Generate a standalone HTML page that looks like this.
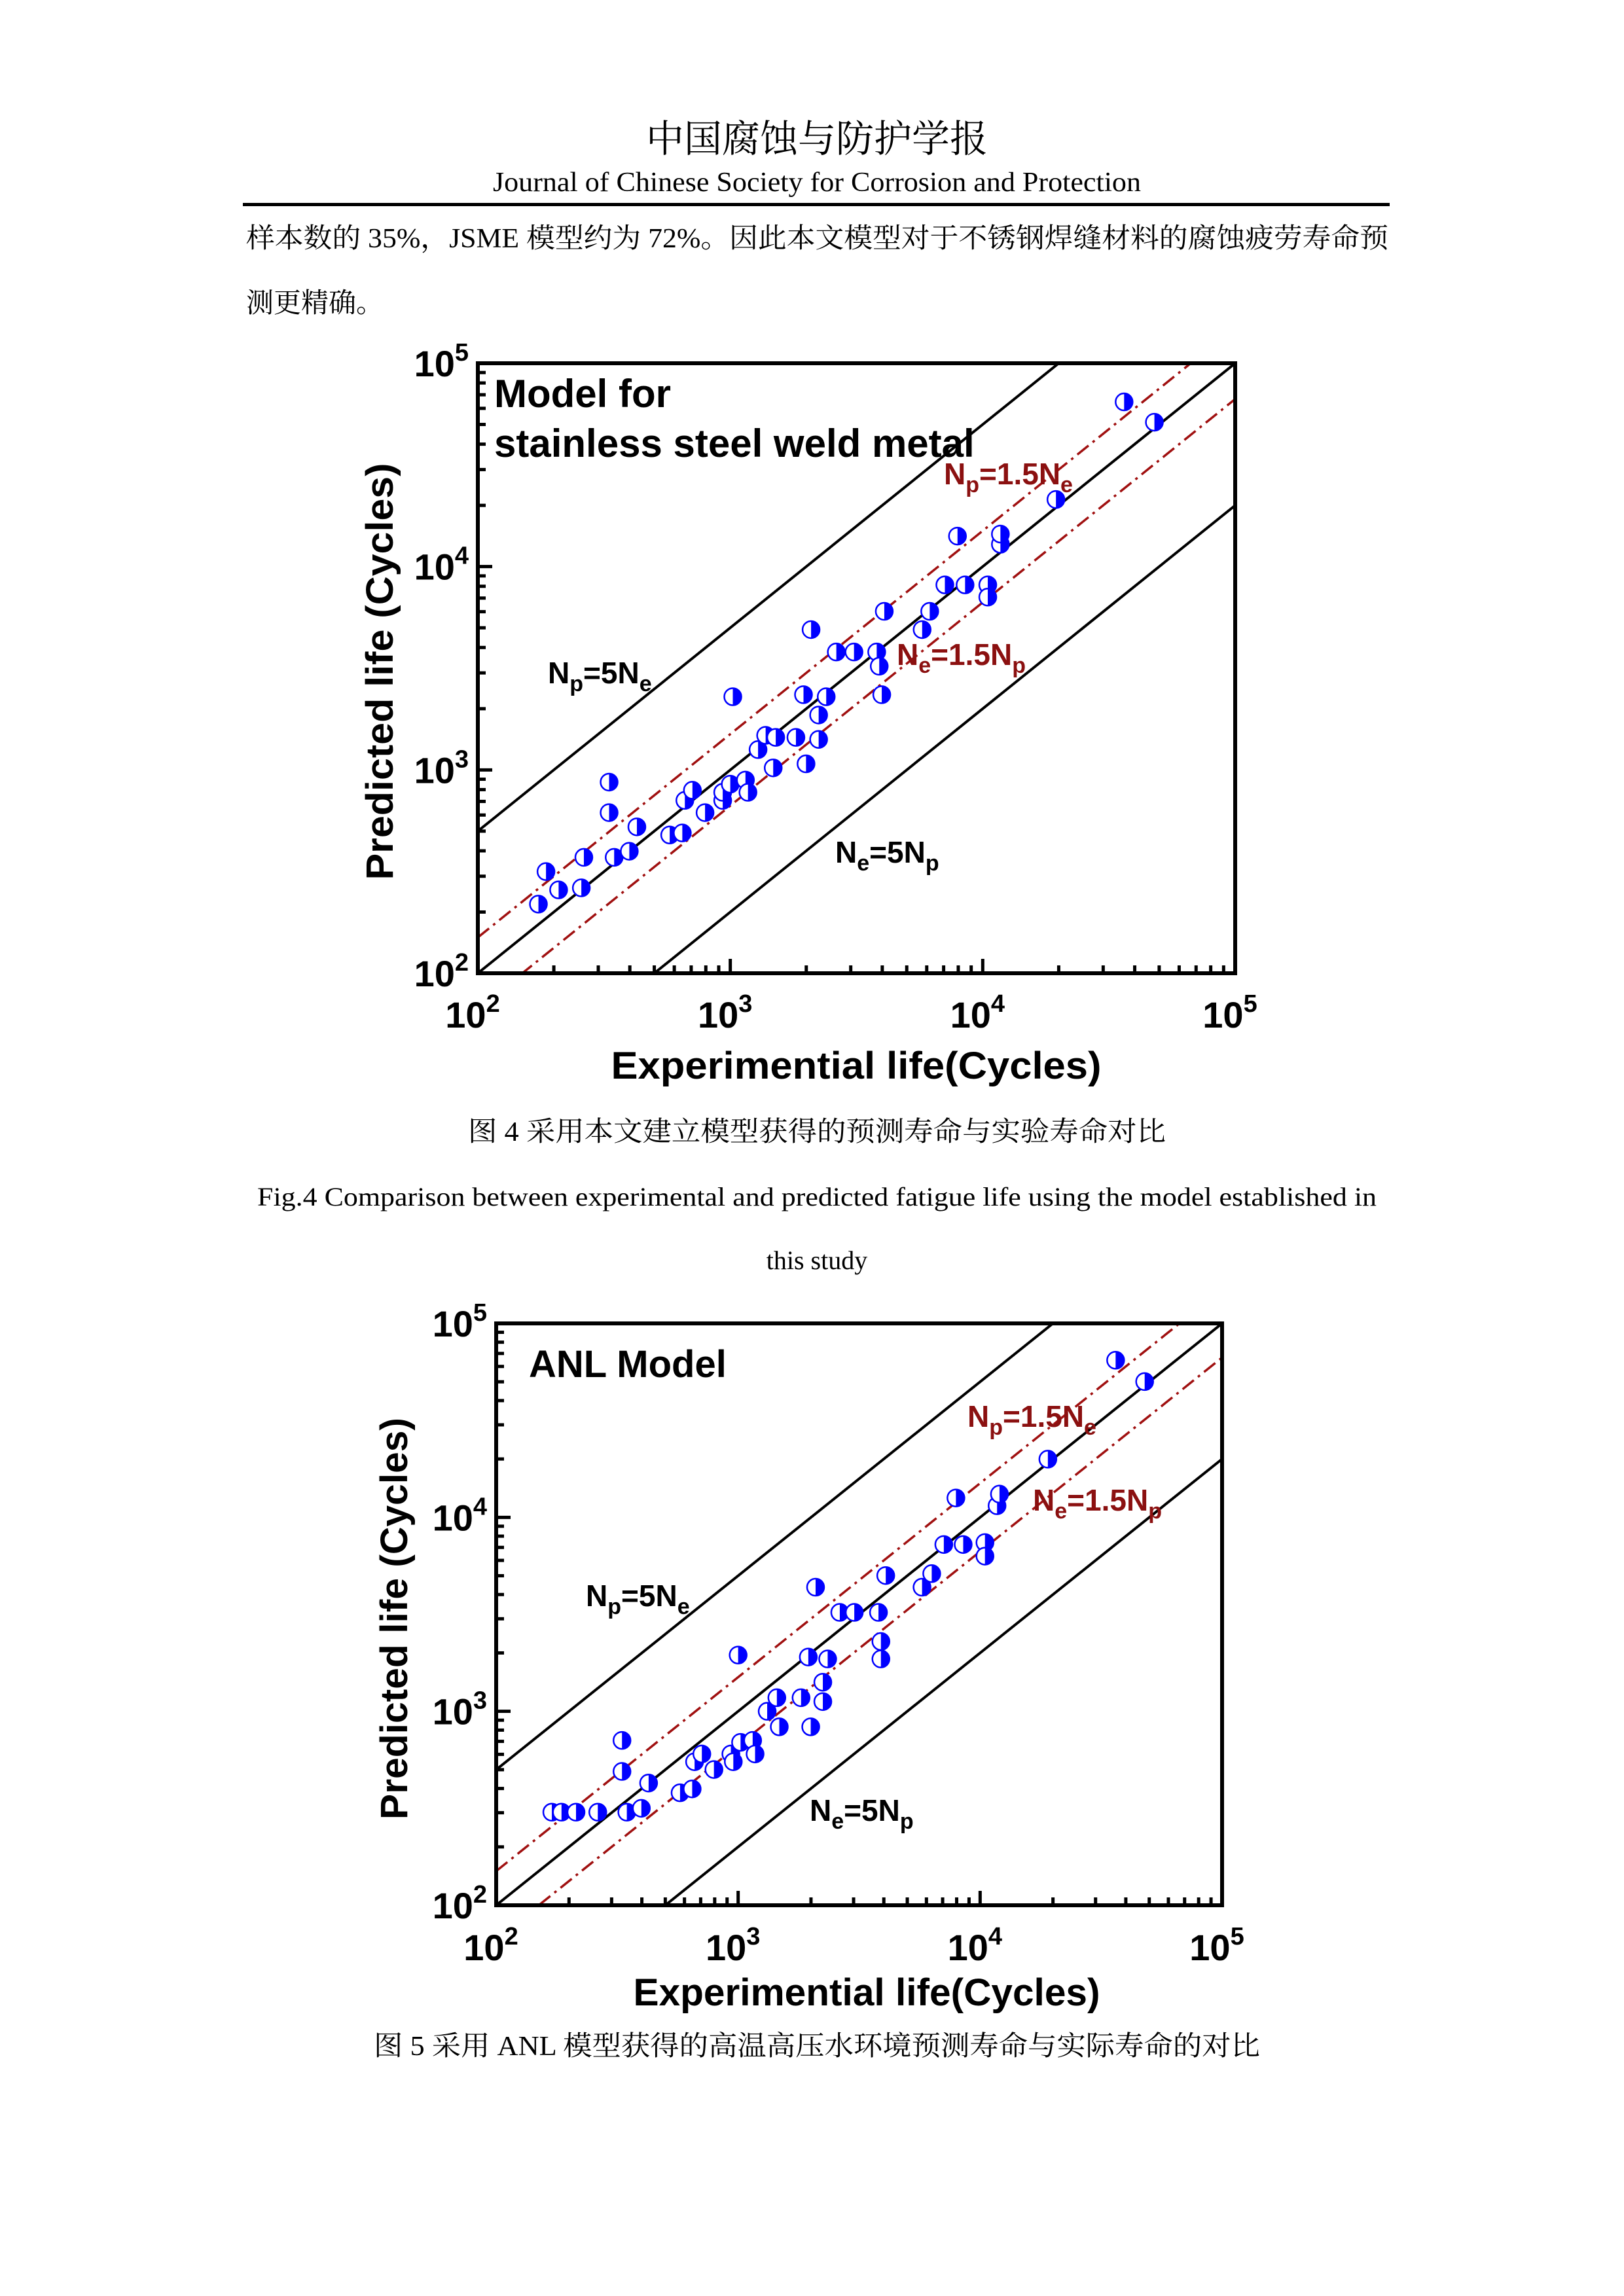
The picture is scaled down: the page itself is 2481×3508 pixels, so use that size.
<!DOCTYPE html>
<html><head><meta charset="utf-8">
<style>
html,body{margin:0;padding:0;background:#fff;}
svg{display:block;}
.cn{font-family:"Liberation Serif","Noto Serif CJK SC",serif;}
.ax{font-family:"Liberation Sans",Arial,sans-serif;font-weight:bold;}
</style></head>
<body>
<svg id="page" width="2481" height="3508" viewBox="0 0 2481 3508" xmlns="http://www.w3.org/2000/svg">
<rect width="2481" height="3508" fill="#fff"/>
<text class="cn" x="1248" y="232" font-size="58" text-anchor="middle">中国腐蚀与防护学报</text>
<text class="cn" x="1248" y="292" font-size="42" text-anchor="middle" textLength="990" lengthAdjust="spacingAndGlyphs">Journal of Chinese Society for Corrosion and Protection</text>
<rect x="371" y="310" width="1752" height="5" fill="#000"/>
<text class="cn" x="376" y="378" font-size="42" textLength="1745" lengthAdjust="spacingAndGlyphs">样本数的 35%，JSME 模型约为 72%。因此本文模型对于不锈钢焊缝材料的腐蚀疲劳寿命预</text>
<text class="cn" x="376" y="477" font-size="42">测更精确。</text>
<g id="chart1"></g>
<g id="chart2"></g>
<text class="cn" x="1248" y="1743" font-size="42" text-anchor="middle" textLength="1066" lengthAdjust="spacingAndGlyphs">图 4  采用本文建立模型获得的预测寿命与实验寿命对比</text>
<text class="cn" x="1248" y="1842" font-size="40" text-anchor="middle" textLength="1710" lengthAdjust="spacingAndGlyphs">Fig.4 Comparison between experimental and predicted fatigue life using the model established in</text>
<text class="cn" x="1248" y="1939" font-size="40" text-anchor="middle">this study</text>
<text class="cn" x="1248" y="3140" font-size="42" text-anchor="middle" textLength="1354" lengthAdjust="spacingAndGlyphs">图 5  采用 ANL 模型获得的高温高压水环境预测寿命与实际寿命的对比</text>
</svg>
<script>
// Chart 1 data (log10 of cycles)
const c1ExpLog = [2.24,2.27,2.32,2.41,2.42,2.52,2.52,2.54,2.60,2.63,2.76,2.81,2.82,2.85,2.90,2.97,2.97,3.00,3.01,3.06,3.07,3.11,3.14,3.17,3.18,3.26,3.29,3.30,3.32,3.35,3.35,3.38,3.42,3.49,3.58,3.59,3.60,3.61,3.76,3.79,3.85,3.90,3.93,4.02,4.02,4.07,4.07,4.29,4.56,4.68];
const c1PredLog = [2.34,2.50,2.41,2.42,2.57,2.94,2.79,2.57,2.60,2.72,2.68,2.69,2.85,2.90,2.79,2.85,2.89,2.93,3.36,2.95,2.89,3.10,3.17,3.01,3.16,3.16,3.37,3.03,3.69,3.27,3.15,3.36,3.58,3.58,3.58,3.51,3.37,3.78,3.69,3.78,3.91,4.15,3.91,3.91,3.85,4.11,4.16,4.33,4.81,4.71];
// Chart 2 data (log10 of cycles)
const c2ExpLog = [2.23,2.27,2.33,2.42,2.54,2.60,2.52,2.52,2.63,2.76,2.81,2.82,2.85,2.90,2.97,2.98,3.00,3.01,3.06,3.07,3.12,3.16,3.17,3.26,3.29,3.30,3.32,3.35,3.35,3.37,3.42,3.48,3.58,3.59,3.59,3.61,3.76,3.80,3.85,3.90,3.93,4.02,4.02,4.07,4.08,4.28,4.56,4.68];
const c2PredLog = [2.48,2.48,2.48,2.48,2.48,2.50,2.85,2.69,2.63,2.58,2.60,2.74,2.78,2.70,2.78,2.74,3.29,2.84,2.85,2.78,3.00,3.07,2.92,3.07,3.28,2.92,3.64,3.15,3.05,3.27,3.51,3.51,3.51,3.36,3.27,3.70,3.64,3.71,3.86,4.10,3.86,3.87,3.80,4.06,4.12,4.30,4.81,4.70];
const tickExps = [2,3,4,5];
const refFactors = [5,1,0.2];
const bandFactors = [1.5,1/1.5];

const NS = "http://www.w3.org/2000/svg";
function mk(parent, tag, attrs){ const e=document.createElementNS(NS,tag); for(const k in attrs) e.setAttribute(k,attrs[k]); parent.appendChild(e); return e; }

function drawChart(g, cfg, xs, ys){
  const L=cfg.L,R=cfg.R,T=cfg.T,B=cfg.B;
  const sx = v => L+(v-2)/3*(R-L);
  const sy = v => B-(v-2)/3*(B-T);
  const cid = 'clip'+cfg.id;
  const defs = mk(g,'defs',{});
  const cp = mk(defs,'clipPath',{id:cid});
  mk(cp,'rect',{x:L,y:T,width:R-L,height:B-T});
  const lines = mk(g,'g',{'clip-path':'url(#'+cid+')'});
  refFactors.forEach(f=>{
    const d=Math.log10(f);
    const ln = mk(lines,'line',{x1:sx(2),y1:sy(2+d),x2:sx(5),y2:sy(5+d),stroke:'#000','stroke-width':4});
    
    
  });
  bandFactors.forEach(f=>{
    const d=Math.log10(f);
    const ln = mk(lines,'line',{x1:sx(2),y1:sy(2+d),x2:sx(5),y2:sy(5+d),stroke:'#a01010','stroke-width':3.5,'stroke-dasharray':'22 8 4 8'});
    
    
  });
  const r=13;
  const pts = mk(g,'g',{});
  xs.forEach((xv,i)=>{
    const cx=sx(xv), cy=sy(ys[i]);
    const pg = mk(pts,'g',{});
    
    
    mk(pg,'circle',{cx:cx,cy:cy,r:r,fill:'#fff',stroke:'#0000ff','stroke-width':2.5});
    mk(pg,'path',{d:`M${cx} ${cy-r} A${r} ${r} 0 0 1 ${cx} ${cy+r} Z`,fill:'#0000ff'});
  });
  const fr = mk(g,'rect',{x:L,y:T,width:R-L,height:B-T,fill:'none',stroke:'#000','stroke-width':6});
  
  
  const tk = mk(g,'g',{stroke:'#000','stroke-width':5});
  for(let e=2;e<5;e++){
    for(let m=1;m<10;m++){
      const v=e+Math.log10(m);
      const len = m===1?22:12;
      mk(tk,'line',{x1:sx(v),y1:B,x2:sx(v),y2:B-len});
      mk(tk,'line',{x1:L,y1:sy(v),x2:L+len,y2:sy(v)});
    }
  }
  tickExps.forEach(e=>{
    const xl = mk(g,'text',{x:sx(e)-8,y:cfg.xTickY,'font-size':56,'text-anchor':'middle',class:'ax'});
    
    
    xl.innerHTML = '10<tspan dy="-24" font-size="38">'+e+'</tspan>';
    const yl = mk(g,'text',{x:cfg.yTickR,y:sy(e)+20,'font-size':56,'text-anchor':'end',class:'ax'});
    
    
    yl.innerHTML = '10<tspan dy="-24" font-size="38">'+e+'</tspan>';
  });
  const xt = mk(g,'text',{x:cfg.xTitleX,y:cfg.xTitleY,'font-size':58,'text-anchor':'middle',class:'ax',textLength:cfg.xTitleLen,lengthAdjust:'spacingAndGlyphs'});
  
  
  xt.textContent='Experimential life(Cycles)';
  const yt = mk(g,'text',{x:0,y:0,'font-size':58,'text-anchor':'middle',class:'ax',textLength:cfg.yTitleLen,lengthAdjust:'spacingAndGlyphs',transform:`translate(${cfg.yTitleX},${cfg.yTitleY}) rotate(-90)`});
  
  
  yt.textContent='Predicted life (Cycles)';
  cfg.labels.forEach(lb=>{
    const t = mk(g,'text',{x:lb.x,y:lb.y,'font-size':lb.fs||46,class:'ax',fill:lb.c||'#000'});
    
    
    t.innerHTML = lb.html;
  });
}
const sub=(a,b,c,d)=>`${a}<tspan dy="12" font-size="34">${b}</tspan><tspan dy="-12">${c}</tspan><tspan dy="12" font-size="34">${d}</tspan>`;
drawChart(document.getElementById('chart1'),{id:1,L:730,R:1887,T:555,B:1487,xTickY:1570,yTickR:716,xTitleX:1308,xTitleY:1648,xTitleLen:749,yTitleX:600,yTitleY:1026,yTitleLen:637,
 labels:[
  {name:'annotation-model-for',x:755,y:622,fs:60,html:'Model for'},
  {name:'annotation-stainless',x:755,y:698,fs:60,html:'stainless steel weld metal'},
  {name:'label-np-1.5ne',x:1442,y:740,c:'#8b1010',html:sub('N','p','=1.5N','e')},
  {name:'label-ne-1.5np',x:1370,y:1016,c:'#8b1010',html:sub('N','e','=1.5N','p')},
  {name:'label-np-5ne',x:837,y:1044,html:sub('N','p','=5N','e')},
  {name:'label-ne-5np',x:1276,y:1318,html:sub('N','e','=5N','p')}
 ]}, c1ExpLog, c1PredLog);
drawChart(document.getElementById('chart2'),{id:2,L:758,R:1867,T:2022,B:2911,xTickY:2995,yTickR:744,xTitleX:1324,xTitleY:3064,xTitleLen:713,yTitleX:622,yTitleY:2473,yTitleLen:614,
 labels:[
  {name:'annotation-anl-model',x:808,y:2104,fs:58,html:'ANL Model'},
  {name:'label-np-1.5ne',x:1478,y:2180,c:'#8b1010',html:sub('N','p','=1.5N','e')},
  {name:'label-ne-1.5np',x:1578,y:2308,c:'#8b1010',html:sub('N','e','=1.5N','p')},
  {name:'label-np-5ne',x:895,y:2454,html:sub('N','p','=5N','e')},
  {name:'label-ne-5np',x:1237,y:2782,html:sub('N','e','=5N','p')}
 ]}, c2ExpLog, c2PredLog);
</script>
</body></html>
